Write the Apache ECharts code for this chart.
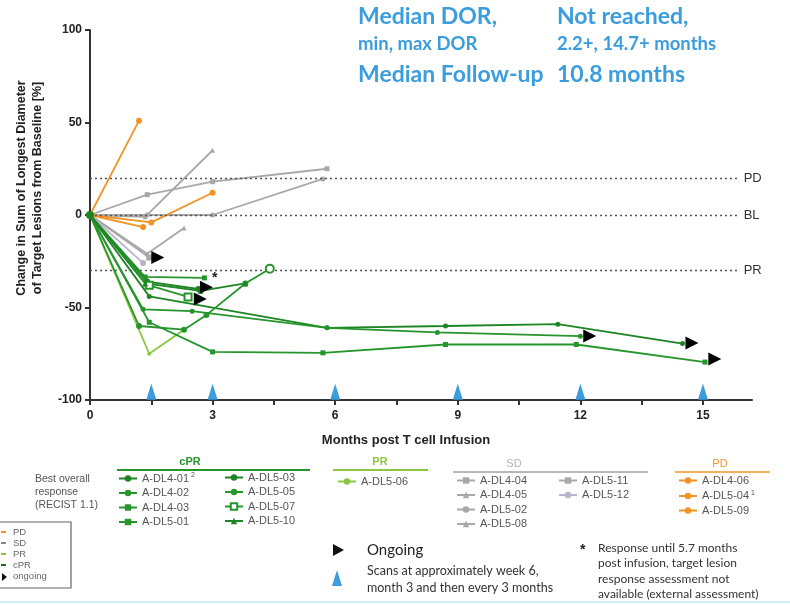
<!DOCTYPE html>
<html><head><meta charset="utf-8">
<script src="https://cdn.jsdelivr.net/npm/echarts@6/dist/echarts.min.js"></script>
<style>html,body{margin:0;padding:0;background:#fff}#chart{width:790px;height:605px}</style>
</head><body><div id="chart"></div>
<script>
// Change in sum of longest diameters [%] by months post T cell infusion, one array per patient.
// cPR
const A_DL4_01 = [[0,0],[1.45,-44],[5.8,-61],[8.7,-60],[11.45,-59],[14.5,-69.5]];
const A_DL4_02 = [[0,0],[1.3,-51],[2.5,-52],[5.8,-61],[8.5,-63.5],[12,-65.5]];
const A_DL4_03 = [[0,0],[1.45,-58],[3,-74],[5.7,-74.5],[8.7,-70],[11.9,-70],[15.05,-79.5]];
const A_DL5_01 = [[0,0],[1.35,-33.5],[2.8,-34]];
const A_DL5_03 = [[0,0],[1.4,-36],[2.65,-40]];
const A_DL5_05 = [[0,0],[1.2,-60],[2.3,-62],[2.85,-54],[3.8,-37],[4.4,-29]];
const A_DL5_07 = [[0,0],[1.45,-38],[2.4,-44.3]];
const A_DL5_10 = [[0,0],[1.35,-37],[2.7,-41],[3.8,-37]];
// PR
const A_DL5_06 = [[0,0],[1.45,-75],[2.3,-62]];
// SD
const A_DL4_04 = [[0,0],[1.4,11],[3,18],[5.8,25]];
const A_DL4_05 = [[0,0],[1.35,-1],[3,35]];
const A_DL5_02 = [[0,0],[1.4,0],[3,0],[5.7,19.5]];
const A_DL5_08 = [[0,0],[1.4,-21],[2.3,-7]];
const A_DL5_11 = [[0,0],[1.45,-23]];
const A_DL5_12 = [[0,0],[1.3,-26]];
// PD
const A_DL4_06 = [[0,0],[1.2,51]];
const A_DL5_04 = [[0,0],[1.3,-6.5]];
const A_DL5_09 = [[0,0],[1.5,-4],[3,12]];

// Patients still responding at data cut
const ongoingPoints = [[1.66,-23],[2.85,-39],[2.7,-45.4],[12.23,-65.4],[14.73,-69.2],[15.29,-77.8]];
// Scan schedule
const scanMonths = [1.5,3,6,9,12,15];
// Response thresholds
const refLines = [{name:'PD', y:20},{name:'BL', y:0},{name:'PR', y:-30}];
const xTickLabels = [0,3,6,9,12,15];

const C_CPR = '#26952b', C_CPR2 = '#1d8523', C_PR = '#8cc63e', C_SD = '#a8a8a8', C_SD2 = '#b9b3cb', C_PD = '#f39325';
const BLUE = '#3b9ddd';

// baseline point shares one filled green dot; other series hide their own marker there
function withBaseline(data) {
  return data.map((d, i) => i === 0 ? {value: d, symbol: 'none'} : d);
}

function line(name, data, color, extra) {
  return Object.assign({
    name, type: 'line', data: withBaseline(data), symbol: 'circle', symbolSize: 5,
    lineStyle: {color, width: 1.8}, itemStyle: {color},
    z: 3
  }, extra || {});
}

const series = [
  line('A-DL4-04', A_DL4_04, C_SD, {symbol:'rect'}),
  line('A-DL4-05', A_DL4_05, C_SD, {symbol:'triangle', symbolSize:5}),
  line('A-DL5-02', A_DL5_02, C_SD),
  line('A-DL5-08', A_DL5_08, C_SD, {symbol:'triangle'}),
  line('A-DL5-11', A_DL5_11, C_SD, {symbol:'rect', symbolSize:6}),
  line('A-DL5-12', A_DL5_12, C_SD2, {symbolSize:6}),
  line('A-DL4-06', A_DL4_06, C_PD, {symbolSize:6}),
  line('A-DL5-04', A_DL5_04, C_PD, {symbolSize:6}),
  line('A-DL5-09', A_DL5_09, C_PD, {symbolSize:6}),
  line('A-DL5-06', A_DL5_06, C_PR, {symbolSize:4, z:4}),
  line('A-DL4-01', A_DL4_01, C_CPR2, {z:5}),
  line('A-DL4-02', A_DL4_02, C_CPR, {z:5}),
  line('A-DL4-03', A_DL4_03, C_CPR, {z:5, symbol:'rect', symbolSize:5}),
  line('A-DL5-01', A_DL5_01, C_CPR, {z:5, symbol:'rect', symbolSize:5,
    label:{show:true, position:'right', distance:5, color:'#222', fontSize:14, fontWeight:'bold',
      formatter: p => p.dataIndex === A_DL5_01.length - 1 ? '*' : ''}}),
  line('A-DL5-03', A_DL5_03, C_CPR2, {z:5, symbolSize:6}),
  line('A-DL5-05', A_DL5_05, C_CPR, {z:5, symbolSize:6,
    data: withBaseline(A_DL5_05).map((d, i) => i === A_DL5_05.length - 1
      ? {value: A_DL5_05[i], symbol: 'emptyCircle', symbolSize: 8} : d)}),
  line('A-DL5-07', A_DL5_07, C_CPR, {z:5, symbol:'emptyRect', symbolSize:7}),
  line('A-DL5-10', A_DL5_10, C_CPR2, {z:5, symbol:'triangle', symbolSize:6}),
  {
    name: 'baseline', type: 'scatter', data: [[0, 0]], symbol: 'circle', symbolSize: 8,
    itemStyle: {color: C_CPR2, opacity: 1}, z: 6
  },
  {
    name: 'ongoing', type: 'scatter', data: ongoingPoints, symbol: 'triangle',
    symbolRotate: -90, symbolSize: [13, 13], itemStyle: {color: '#000', opacity: 1}, z: 6
  },
  {
    name: 'scans', type: 'scatter', data: scanMonths.map(m => [m, -95.6]),
    symbol: 'triangle', symbolSize: [10, 16], itemStyle: {color: BLUE, opacity: 1}, z: 2
  },
  {
    name: 'thresholds', type: 'line', data: [], z: 1,
    markLine: {
      silent: true, symbol: 'none',
      lineStyle: {type: [2, 3], color: '#555', width: 1.3},
      label: {position: 'end', distance: 6, color: '#333', fontSize: 13, fontFamily: 'Liberation Sans', formatter: '{b}'},
      data: refLines.map(r => [{coord: [0, r.y]}, {coord: [15.85, r.y], name: r.name}])
    }
  }
];

const legendText = {fontSize: 11, color: '#555', fontFamily: 'Liberation Sans',
  rich: {s: {fontSize: 7, color: '#555', verticalAlign: 'top', padding: [0,0,6,2]}}};
const sup = {'A-DL4-01': '2', 'A-DL5-04': '1'};
function legendCol(names, left, top) {
  return {
    data: names, left, top, orient: 'vertical', itemGap: 3.5, itemWidth: 18, itemHeight: 8,
    selectedMode: false, padding: 0,
    textStyle: legendText,
    formatter: n => sup[n] ? n + '{s|' + sup[n] + '}' : n
  };
}

const option = {
  animation: false,
  backgroundColor: '#fff',
  grid: {left: 90, right: 38, top: 30, bottom: 205},
  xAxis: {
    type: 'value', min: 0, max: 16.2, interval: 1.5,
    axisLine: {onZero: false, lineStyle: {color: '#333', width: 2}},
    axisTick: {show: true, length: 5, lineStyle: {color: '#333', width: 2}},
    splitLine: {show: false},
    axisLabel: {color: '#222', fontWeight: 'bold', fontSize: 12, fontFamily: 'Liberation Sans', margin: 10,
      showMaxLabel: false,
      formatter: v => xTickLabels.includes(Math.round(v * 100) / 100) ? String(v) : ''}
  },
  yAxis: {
    type: 'value', min: -100, max: 100, interval: 50,
    axisLine: {show: true, onZero: false, lineStyle: {color: '#333', width: 2}},
    axisTick: {show: true, length: 5, lineStyle: {color: '#333', width: 2}},
    splitLine: {show: false},
    axisLabel: {color: '#222', fontWeight: 'bold', fontSize: 12, fontFamily: 'Liberation Sans', margin: 8}
  },
  legend: [
    legendCol(['A-DL4-01','A-DL4-02','A-DL4-03','A-DL5-01'], 118, 472),
    legendCol(['A-DL5-03','A-DL5-05','A-DL5-07','A-DL5-10'], 224, 472),
    legendCol(['A-DL5-06'], 337, 476),
    legendCol(['A-DL4-04','A-DL4-05','A-DL5-02','A-DL5-08'], 456, 475),
    legendCol(['A-DL5-11','A-DL5-12'], 558, 475),
    legendCol(['A-DL4-06','A-DL5-04','A-DL5-09'], 678, 475)
  ],
  series,
  graphic: [
    // summary statistics
    {type:'text', left:358, top:5, style:{text:'Median DOR,', font:'bold 23px Lato', fill:BLUE}},
    {type:'text', left:358, top:35, style:{text:'min, max DOR', font:'bold 18.5px Lato', fill:BLUE}},
    {type:'text', left:358, top:63, style:{text:'Median Follow-up', font:'bold 23px Lato', fill:BLUE}},
    {type:'text', left:557, top:5, style:{text:'Not reached,', font:'bold 23px Lato', fill:BLUE}},
    {type:'text', left:557, top:35, style:{text:'2.2+, 14.7+ months', font:'bold 18.5px Lato', fill:BLUE}},
    {type:'text', left:557, top:63, style:{text:'10.8 months', font:'bold 23px Lato', fill:BLUE}},
    // axis titles
    {type:'text', x:30, y:188, rotation:Math.PI/2,
      style:{text:'Change in Sum of Longest Diameter\nof Target Lesions from Baseline [%]', font:'bold 12.5px Liberation Sans',
        fill:'#222', align:'center', verticalAlign:'middle', lineHeight:16}},
    {type:'text', x:406, y:440, style:{text:'Months post T cell Infusion', font:'bold 13px Liberation Sans',
      fill:'#222', align:'center', verticalAlign:'middle'}},
    // response group headers
    {type:'text', x:35, y:473, style:{text:'Best overall\nresponse\n(RECIST 1.1)', font:'10.5px Liberation Sans', fill:'#555', lineHeight:13}},
    {type:'text', x:190, y:462, style:{text:'cPR', font:'bold 11px Liberation Sans', fill:C_CPR, align:'center', verticalAlign:'middle'}},
    {type:'line', shape:{x1:117, y1:470, x2:310, y2:470}, style:{stroke:C_CPR, lineWidth:2}},
    {type:'text', x:380, y:462, style:{text:'PR', font:'bold 11px Liberation Sans', fill:C_PR, align:'center', verticalAlign:'middle'}},
    {type:'line', shape:{x1:333, y1:470, x2:428, y2:470}, style:{stroke:C_PR, lineWidth:2}},
    {type:'text', x:514, y:464, style:{text:'SD', font:'11px Liberation Sans', fill:'#b5b5b5', align:'center', verticalAlign:'middle'}},
    {type:'line', shape:{x1:453, y1:472, x2:648, y2:472}, style:{stroke:'#a0a0a0', lineWidth:1.5}},
    {type:'text', x:720, y:464, style:{text:'PD', font:'11px Liberation Sans', fill:C_PD, align:'center', verticalAlign:'middle'}},
    {type:'line', shape:{x1:675, y1:472, x2:770, y2:472}, style:{stroke:C_PD, lineWidth:1.5}},
    // small key box
    {type:'rect', shape:{x:-1, y:522, width:72, height:66}, style:{fill:'none', stroke:'#666', lineWidth:1.2}},
    {type:'line', shape:{x1:1, y1:532, x2:6, y2:532}, style:{stroke:C_PD, lineWidth:2}},
    {type:'line', shape:{x1:1, y1:543, x2:6, y2:543}, style:{stroke:'#888', lineWidth:2}},
    {type:'line', shape:{x1:1, y1:554, x2:6, y2:554}, style:{stroke:C_PR, lineWidth:2}},
    {type:'line', shape:{x1:1, y1:565, x2:6, y2:565}, style:{stroke:'#1c6b22', lineWidth:2}},
    {type:'polygon', shape:{points:[[2,573],[7,577],[2,581]]}, style:{fill:'#111'}},
    {type:'text', x:13, y:527, style:{text:'PD\nSD\nPR\ncPR\nongoing', font:'9.5px Liberation Sans', fill:'#666', lineHeight:11}},
    // ongoing and scan notes
    {type:'polygon', shape:{points:[[333,544],[344,550],[333,556]]}, style:{fill:'#111'}},
    {type:'text', x:367, y:550, style:{text:'Ongoing', font:'15px Lato', fill:'#222', verticalAlign:'middle'}},
    {type:'polygon', shape:{points:[[337,570],[342,586],[332,586]]}, style:{fill:BLUE}},
    {type:'text', x:367, y:562, style:{text:'Scans at approximately week 6,\nmonth 3 and then every 3 months', font:'12.5px Lato', fill:'#333', verticalAlign:'top', lineHeight:17}},
    {type:'text', x:580, y:550, style:{text:'*', font:'bold 14px Liberation Sans', fill:'#222', verticalAlign:'middle'}},
    {type:'text', x:598, y:540, style:{text:'Response until 5.7 months\npost infusion, target lesion\nresponse assessment not\navailable (external assessment)', font:'12px Lato', fill:'#333', lineHeight:15.5}},
    {type:'line', shape:{x1:0, y1:602, x2:790, y2:602}, style:{stroke:'#d6eef8', lineWidth:2}}
  ]
};

echarts.init(document.getElementById('chart'), null, {renderer:'canvas'}).setOption(option);
</script>
</body></html>
